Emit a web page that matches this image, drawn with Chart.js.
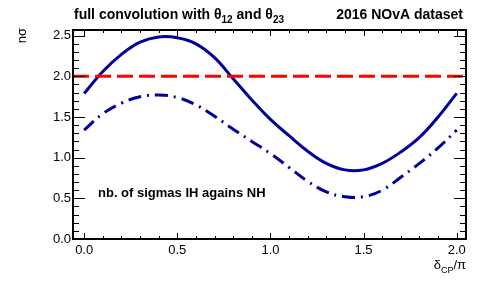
<!DOCTYPE html>
<html>
<head>
<meta charset="utf-8">
<script src="https://cdn.jsdelivr.net/npm/chart.js@4.4.1/dist/chart.umd.min.js"></script>
<style>
  html, body { margin: 0; padding: 0; background: #fff; }
  #wrap { width: 491px; height: 282px; }
</style>
</head>
<body>
<div id="wrap"><canvas id="c" width="491" height="282"></canvas></div>
<script>
// delta_CP / pi
var deltaCP = [0.0, 0.1, 0.2, 0.3, 0.4, 0.5, 0.6, 0.7, 0.8, 0.9, 1.0,
               1.1, 1.2, 1.3, 1.4, 1.5, 1.6, 1.7, 1.8, 1.9, 2.0];
// n sigma, full curve
var sigmaFull = [1.79, 2.06, 2.27, 2.42, 2.485, 2.475, 2.40, 2.23, 1.97, 1.71, 1.47,
                 1.27, 1.08, 0.93, 0.85, 0.85, 0.93, 1.07, 1.25, 1.50, 1.79];
// n sigma, dash-dot curve
var sigmaDashDot = [1.34, 1.54, 1.67, 1.75, 1.77, 1.74, 1.65, 1.51, 1.35, 1.20, 1.05,
                    0.88, 0.71, 0.58, 0.52, 0.52, 0.60, 0.76, 0.93, 1.12, 1.34];
var refLevel = 2.0;
var xRange = [-0.06, 2.05];
var yRange = [0, 2.57];
var xTicks = [0.0, 0.5, 1.0, 1.5, 2.0];
var yTicks = [0.0, 0.5, 1.0, 1.5, 2.0, 2.5];

var navy = '#00009c';
var font = '"Liberation Sans", Arial, Helvetica, sans-serif';

function pts(xs, ys) {
    var acc = [];
    for (var i = 0; i < xs.length; i++) acc.push({x: xs[i], y: ys[i]});
    return acc;
}

// ROOT-like frame, inner ticks and texts
var rootFrame = {
    id: 'rootFrame',
    afterDraw: function(chart) {
        var ctx = chart.ctx;
        var a = chart.chartArea;
        var xs = chart.scales.x, ys = chart.scales.y;
        ctx.save();
        ctx.strokeStyle = '#000';
        ctx.lineWidth = 1;
        ctx.beginPath();
        var v, px, len;
        // x ticks, bottom and top
        for (v = 0; v <= 2.05 + 1e-9; v += 0.1) {
            v = Math.round(v * 10) / 10;
            px = Math.round(xs.getPixelForValue(v)) + 0.5;
            len = (Math.abs(v * 2 - Math.round(v * 2)) < 1e-6) ? 6 : 3;
            ctx.moveTo(px, a.bottom); ctx.lineTo(px, a.bottom - len);
            ctx.moveTo(px, a.top); ctx.lineTo(px, a.top + len);
        }
        // y ticks, left and right
        for (v = 0; v <= 2.55 + 1e-9; v += 0.1) {
            v = Math.round(v * 10) / 10;
            px = Math.round(ys.getPixelForValue(v)) + 0.5;
            len = (Math.abs(v * 2 - Math.round(v * 2)) < 1e-6) ? 12 : 6;
            ctx.moveTo(a.left, px); ctx.lineTo(a.left + len, px);
            ctx.moveTo(a.right, px); ctx.lineTo(a.right - len, px);
        }
        ctx.stroke();
        // frame
        ctx.lineWidth = 2;
        ctx.strokeRect(a.left, a.top, a.right - a.left, a.bottom - a.top);

        ctx.fillStyle = '#000';
        ctx.textBaseline = 'alphabetic';
        // title
        var x = 74;
        ctx.textAlign = 'left';
        ctx.font = 'bold 14px ' + font;
        ctx.fillText('full convolution with \u03b8', x, 19);
        x += ctx.measureText('full convolution with \u03b8').width;
        ctx.font = 'bold 10px ' + font;
        ctx.fillText('12', x, 23);
        x += ctx.measureText('12').width;
        ctx.font = 'bold 14px ' + font;
        ctx.fillText(' and \u03b8', x, 19);
        x += ctx.measureText(' and \u03b8').width;
        ctx.font = 'bold 10px ' + font;
        ctx.fillText('23', x, 23);

        ctx.textAlign = 'right';
        ctx.font = 'bold 14px ' + font;
        ctx.fillText('2016 NOvA dataset', 463, 19);

        ctx.textAlign = 'left';
        ctx.font = 'bold 13px ' + font;
        ctx.fillText('nb. of sigmas IH agains NH', 98, 197);

        // x axis title
        ctx.font = '13px ' + font;
        var w1 = ctx.measureText('\u03b4').width;
        ctx.font = '9px ' + font;
        var w2 = ctx.measureText('CP').width;
        ctx.font = '13px ' + font;
        var w3 = ctx.measureText('/\u03c0').width;
        x = 466 - (w1 + w2 + w3);
        ctx.fillText('\u03b4', x, 269);
        ctx.font = '9px ' + font;
        ctx.fillText('CP', x + w1, 273);
        ctx.font = '13px ' + font;
        ctx.fillText('/\u03c0', x + w1 + w2, 269);

        // y axis title
        ctx.translate(26, 28);
        ctx.rotate(-Math.PI / 2);
        ctx.textAlign = 'right';
        ctx.font = '13px ' + font;
        ctx.fillText('n\u03c3', 0, 0);
        ctx.restore();
    }
};

new Chart(document.getElementById('c'), {
    type: 'line',
    data: {
        datasets: [
            {
                data: pts(xRange, [refLevel, refLevel]),
                borderColor: '#ff0000',
                borderWidth: 3,
                borderDash: [16, 6],
                pointRadius: 0,
                fill: false
            },
            {
                data: pts(deltaCP, sigmaFull),
                borderColor: navy,
                borderWidth: 3,
                pointRadius: 0,
                tension: 0.4,
                fill: false
            },
            {
                data: pts(deltaCP, sigmaDashDot),
                borderColor: navy,
                borderWidth: 3,
                borderDash: [13, 6, 2, 6],
                pointRadius: 0,
                tension: 0.4,
                fill: false
            }
        ]
    },
    options: {
        responsive: false,
        animation: false,
        layout: { padding: { left: 0, right: 25, top: 30, bottom: 0 } },
        plugins: { legend: { display: false }, tooltip: { enabled: false }, title: { display: false } },
        scales: {
            x: {
                type: 'linear',
                min: xRange[0],
                max: xRange[1],
                grid: { display: false, drawTicks: false },
                border: { display: false },
                afterBuildTicks: function(s) { s.ticks = xTicks.map(function(v) { return {value: v}; }); },
                afterFit: function(s) { s.height = 43; },
                ticks: {
                    padding: 4,
                    maxRotation: 0,
                    color: '#000',
                    font: { family: font, size: 13 },
                    callback: function(v) { return Number(v).toFixed(1); }
                }
            },
            y: {
                min: yRange[0],
                max: yRange[1],
                grid: { display: false, drawTicks: false },
                border: { display: false },
                afterBuildTicks: function(s) { s.ticks = yTicks.map(function(v) { return {value: v}; }); },
                afterFit: function(s) { s.width = 73; },
                ticks: {
                    padding: 2,
                    color: '#000',
                    font: { family: font, size: 13 },
                    callback: function(v) { return Number(v).toFixed(1); }
                }
            }
        }
    },
    plugins: [rootFrame]
});
</script>
</body>
</html>
